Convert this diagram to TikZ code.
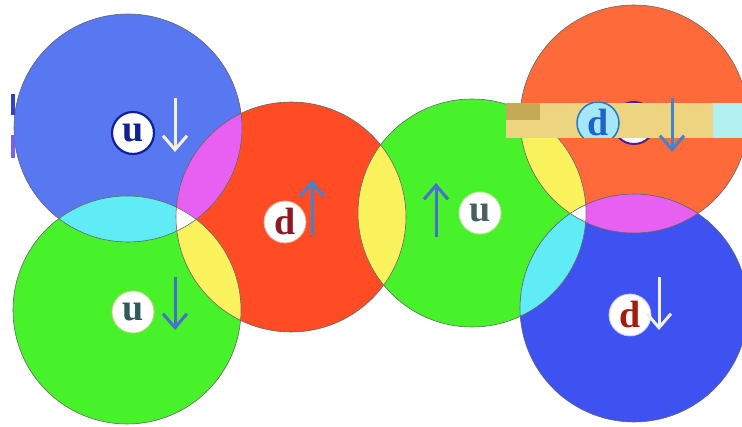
\documentclass[tikz,border=0pt]{standalone}
\usepackage{fontspec}
\setmainfont{Liberation Serif}
\usetikzlibrary{arrows.meta}
\definecolor{blueA}{RGB}{88,120,242}
\definecolor{blueF}{RGB}{62,82,242}
\definecolor{greenq}{RGB}{72,242,42}
\definecolor{redq}{RGB}{255,76,36}
\definecolor{orangeq}{RGB}{255,106,58}
\definecolor{yellowq}{RGB}{250,242,92}
\definecolor{magentaq}{RGB}{232,96,242}
\definecolor{cyanq}{RGB}{96,236,246}
\definecolor{cream}{RGB}{242,240,222}
\definecolor{arrowblue}{RGB}{74,110,205}
\definecolor{arrowblueb}{RGB}{70,130,200}
\definecolor{tanband}{RGB}{236,212,128}
\definecolor{oliveband}{RGB}{196,170,84}
\definecolor{cyanband}{RGB}{178,240,240}
\begin{document}
\begin{tikzpicture}[x=1pt,y=-1pt,
  ring/.style={draw=black!60, line width=0.6pt},
  lbl/.style={circle, fill=white, inner sep=0pt, minimum size=42pt, line width=0.8pt,
              font=\fontsize{38}{38}\selectfont\bfseries},
  spin/.style={line width=3pt, line cap=butt, -{Straight Barb[length=14pt,width=24pt]}}
]
\useasboundingbox (0,0) rectangle (742,427);
\clip (0,0) rectangle (742,427);
\fill[white] (0,0) rectangle (742,427);

% centres
\coordinate (cA) at (128,128);
\coordinate (cB) at (127,310);
\coordinate (cC) at (291,217);
\coordinate (cD) at (472,213);
\coordinate (cE) at (634,119);
\coordinate (cF) at (634,308);

% base discs
\fill[blueA]   (cA) circle[radius=114pt];
\fill[greenq]  (cB) circle[radius=114pt];
\fill[redq]    (cC) circle[radius=115pt];
\fill[greenq]  (cD) circle[radius=114pt];
\fill[orangeq] (cE) circle[radius=114pt];
\fill[blueF]   (cF) circle[radius=114pt];

% pairwise overlaps
\begin{scope}\clip (cA) circle[radius=114pt]; \fill[cyanq] (cB) circle[radius=114pt];\end{scope}
\begin{scope}\clip (cA) circle[radius=114pt]; \fill[magentaq] (cC) circle[radius=115pt];\end{scope}
\begin{scope}\clip (cB) circle[radius=114pt]; \fill[yellowq] (cC) circle[radius=115pt];\end{scope}
\begin{scope}\clip (cC) circle[radius=115pt]; \fill[yellowq] (cD) circle[radius=114pt];\end{scope}
\begin{scope}\clip (cD) circle[radius=114pt]; \fill[yellowq] (cE) circle[radius=114pt];\end{scope}
\begin{scope}\clip (cD) circle[radius=114pt]; \fill[cyanq] (cF) circle[radius=114pt];\end{scope}
\begin{scope}\clip (cE) circle[radius=114pt]; \fill[magentaq] (cF) circle[radius=114pt];\end{scope}
% triple overlaps
\begin{scope}\clip (cA) circle[radius=114pt]; \clip (cB) circle[radius=114pt]; \fill[white] (cC) circle[radius=115pt];\end{scope}
\begin{scope}\clip (cD) circle[radius=114pt]; \clip (cE) circle[radius=114pt]; \fill[white] (cF) circle[radius=114pt];\end{scope}

% outlines
\draw[ring] (cA) circle[radius=114pt];
\draw[ring] (cB) circle[radius=114pt];
\draw[ring] (cC) circle[radius=115pt];
\draw[ring] (cD) circle[radius=114pt];
\draw[ring] (cE) circle[radius=114pt];
\draw[ring] (cF) circle[radius=114pt];

% small marks on the left edge
\fill[blueF!80!black] (11,94) rectangle (15,115);
\fill[blueA!80!magenta] (11,135) rectangle (15,158);

% hidden label under the band
\node[lbl, draw={rgb,255:red,80;green,30;blue,140}, line width=2pt] (lE) at (634,123) {};

% the band across the top-right disc
\fill[tanband] (506,103) rectangle (713,138);
\fill[oliveband] (506,103) rectangle (540,120);
\fill[cyanband] (713,103) rectangle (742,138);
\begin{scope}
  \clip (506,103) rectangle (713,138);
  \node[lbl, fill={rgb,255:red,165;green,230;blue,248}, draw={rgb,255:red,40;green,120;blue,200}, line width=1.5pt,
        text={rgb,255:red,30;green,100;blue,200}] (lEb) at (598,123) {d};
\end{scope}

% labels
\node[lbl, draw={rgb,255:red,16;green,32;blue,150}, line width=2.2pt, text={rgb,255:red,16;green,32;blue,150}] (lA) at (133,133) {u};
\node[lbl, draw={rgb,255:red,205;green,205;blue,130}, text={rgb,255:red,50;green,90;blue,90}] (lB) at (133,312) {u};
\node[lbl, draw={rgb,255:red,235;green,170;blue,150}, text={rgb,255:red,140;green,25;blue,35}] (lC) at (285,222) {d};
\node[lbl, draw={rgb,255:red,190;green,230;blue,150}, text={rgb,255:red,70;green,95;blue,95}] (lD) at (480,213) {u};
\node[lbl, draw={rgb,255:red,200;green,200;blue,240}, text={rgb,255:red,160;green,30;blue,10}] (lF) at (630,315) {d};

% spin arrows
\draw[spin, cream]      (175,98)  -- (175,152);
\draw[spin, arrowblue]  (175,277) -- (175,330);
\draw[spin, arrowblueb] (312,235) -- (312,180);
\draw[spin, arrowblue]  (436,237) -- (436,183);
\draw[spin, arrowblueb] (672,98)  -- (672,152);
\draw[spin, cream]      (659,277) -- (659,330);
\end{tikzpicture}
\end{document}
